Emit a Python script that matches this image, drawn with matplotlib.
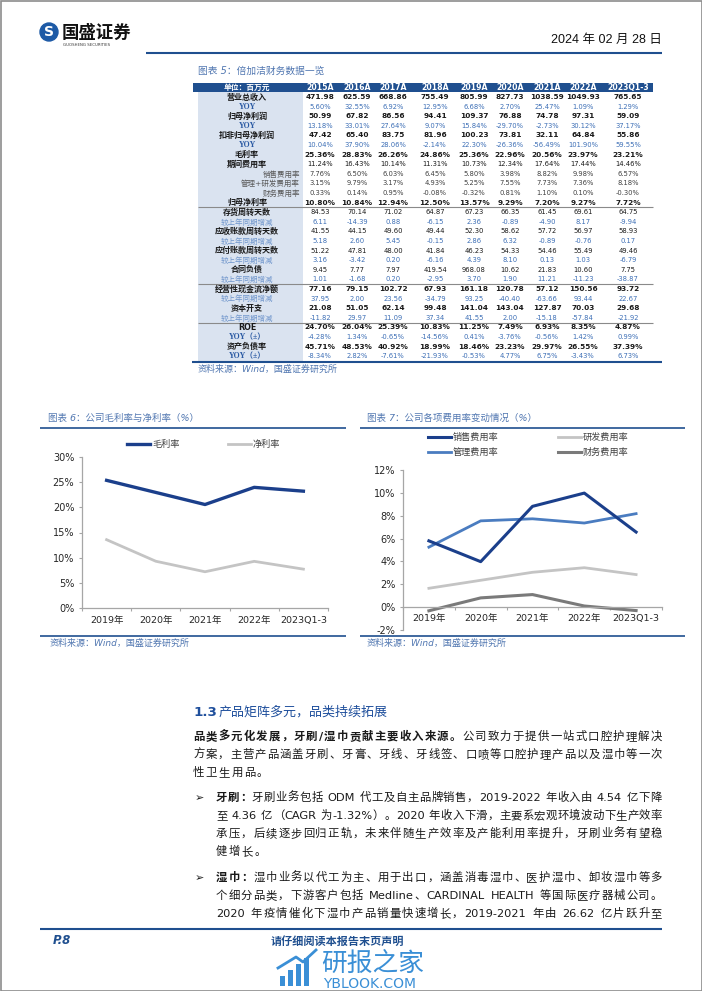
import re
import numpy as np
import matplotlib
matplotlib.use("Agg")
import matplotlib.pyplot as plt
from matplotlib.patches import Rectangle, Circle

W, H = 702, 991
FONTS = ["DejaVu Sans", "Noto Sans CJK SC"]
plt.rcParams["font.family"] = FONTS

NAVY = "#1f4f8f"
LINK = "#5177b1"
TEXT = "#1a1a1a"

# ---------------- table data (图表 5) ----------------
years = ["2015A", "2016A", "2017A", "2018A", "2019A", "2020A", "2021A", "2022A", "2023Q1-3"]

row_labels = [
    "营业总收入", "YOY", "归母净利润", "YOY", "扣非归母净利润", "YOY", "毛利率", "期间费用率",
    "销售费用率", "管理+研发费用率", "财务费用率", "归母净利率",
    "存货周转天数", "较上年同期增减", "应收账款周转天数", "较上年同期增减",
    "应付账款周转天数", "较上年同期增减", "合同负债", "较上年同期增减",
    "经营性现金流净额", "较上年同期增减", "资本开支", "较上年同期增减",
    "ROE", "YOY（±）", "资产负债率", "YOY（±）",
]
row_kinds = [
    "main", "yoy", "main", "yoy", "main", "yoy", "main", "main_n",
    "sub", "sub", "sub", "main",
    "main_n", "chg", "main_n", "chg", "main_n", "chg", "main_n", "chg",
    "main", "chg", "main", "chg",
    "main", "yoy", "main", "yoy",
]
table_values = [
    ["471.98", "625.59", "668.86", "755.49", "805.99", "827.73", "1038.59", "1049.93", "765.65"],
    ["5.60%", "32.55%", "6.92%", "12.95%", "6.68%", "2.70%", "25.47%", "1.09%", "1.29%"],
    ["50.99", "67.82", "86.56", "94.41", "109.37", "76.88", "74.78", "97.31", "59.09"],
    ["13.18%", "33.01%", "27.64%", "9.07%", "15.84%", "-29.70%", "-2.73%", "30.12%", "37.17%"],
    ["47.42", "65.40", "83.75", "81.96", "100.23", "73.81", "32.11", "64.84", "55.86"],
    ["10.04%", "37.90%", "28.06%", "-2.14%", "22.30%", "-26.36%", "-56.49%", "101.90%", "59.55%"],
    ["25.36%", "28.83%", "26.26%", "24.86%", "25.36%", "22.96%", "20.56%", "23.97%", "23.21%"],
    ["11.24%", "16.43%", "10.14%", "11.31%", "10.73%", "12.34%", "17.64%", "17.44%", "14.46%"],
    ["7.76%", "6.50%", "6.03%", "6.45%", "5.80%", "3.98%", "8.82%", "9.98%", "6.57%"],
    ["3.15%", "9.79%", "3.17%", "4.93%", "5.25%", "7.55%", "7.73%", "7.36%", "8.18%"],
    ["0.33%", "0.14%", "0.95%", "-0.08%", "-0.32%", "0.81%", "1.10%", "0.10%", "-0.30%"],
    ["10.80%", "10.84%", "12.94%", "12.50%", "13.57%", "9.29%", "7.20%", "9.27%", "7.72%"],
    ["84.53", "70.14", "71.02", "64.87", "67.23", "66.35", "61.45", "69.61", "64.75"],
    ["6.11", "-14.39", "0.88", "-6.15", "2.36", "-0.89", "-4.90", "8.17", "-9.94"],
    ["41.55", "44.15", "49.60", "49.44", "52.30", "58.62", "57.72", "56.97", "58.93"],
    ["5.18", "2.60", "5.45", "-0.15", "2.86", "6.32", "-0.89", "-0.76", "0.17"],
    ["51.22", "47.81", "48.00", "41.84", "46.23", "54.33", "54.46", "55.49", "49.46"],
    ["3.16", "-3.42", "0.20", "-6.16", "4.39", "8.10", "0.13", "1.03", "-6.79"],
    ["9.45", "7.77", "7.97", "419.54", "968.08", "10.62", "21.83", "10.60", "7.75"],
    ["1.01", "-1.68", "0.20", "-2.95", "3.70", "1.90", "11.21", "-11.23", "-38.87"],
    ["77.16", "79.15", "102.72", "67.93", "161.18", "120.78", "57.12", "150.56", "93.72"],
    ["37.95", "2.00", "23.56", "-34.79", "93.25", "-40.40", "-63.66", "93.44", "22.67"],
    ["21.08", "51.05", "62.14", "99.48", "141.04", "143.04", "127.87", "70.03", "29.68"],
    ["-11.82", "29.97", "11.09", "37.34", "41.55", "2.00", "-15.18", "-57.84", "-21.92"],
    ["24.70%", "26.04%", "25.39%", "10.83%", "11.25%", "7.49%", "6.93%", "8.35%", "4.87%"],
    ["-4.28%", "1.34%", "-0.65%", "-14.56%", "0.41%", "-3.76%", "-0.56%", "1.42%", "0.99%"],
    ["45.71%", "48.53%", "40.92%", "18.99%", "18.46%", "23.23%", "29.97%", "26.55%", "37.39%"],
    ["-8.34%", "2.82%", "-7.61%", "-21.93%", "-0.53%", "4.77%", "6.75%", "-3.43%", "6.73%"],
]

# ---------------- chart data (图表 6 / 7) ----------------
chart_cats = ["2019年", "2020年", "2021年", "2022年", "2023Q1-3"]
gross_margin = [25.36, 22.96, 20.56, 23.97, 23.21]
net_margin = [13.57, 9.29, 7.20, 9.27, 7.72]
sales_rate = [5.80, 3.98, 8.82, 9.98, 6.57]
rd_rate = [1.65, 2.35, 3.05, 3.45, 2.85]
admin_rate = [5.25, 7.55, 7.73, 7.36, 8.18]
fin_rate = [-0.32, 0.81, 1.10, 0.10, -0.30]

fig = plt.figure(figsize=(W / 100, H / 100), dpi=100, facecolor="white")
page = fig.add_axes([0, 0, 1, 1])
page.set_xlim(0, W)
page.set_ylim(H, 0)
page.axis("off")
renderer = fig.canvas.get_renderer()


def hline(x0, x1, y, color=NAVY, lw=1.2):
    page.plot([x0, x1], [y, y], color=color, lw=lw, solid_capstyle="butt")


def px_axes(x0, y0, x1, y1):
    return fig.add_axes([x0 / W, 1 - y1 / H, (x1 - x0) / W, (y1 - y0) / H])


# page frame + header
page.add_patch(Rectangle((0.5, 0.5), W - 1, H - 1, fill=False, ec="#8c8c8c", lw=1.2))
page.add_patch(Circle((49, 32), 9, color="#1d5aa6"))
page.text(49, 32.5, "S", color="white", fontsize=10, fontweight="bold", ha="center", va="center")
page.text(62, 33, "国盛证券", fontsize=12.5, fontweight="bold", color="#111111", va="center")
page.text(63, 45, "GUOSHENG SECURITIES", fontsize=2.8, color="#333333", va="center")
page.text(662, 40, "2024 年 02 月 28 日", fontsize=9, color="#111111", ha="right", va="center",
          family=["Liberation Sans", "Noto Sans CJK SC"])
hline(146, 662, 52.5, lw=1.5)

# ---------------- table ----------------
page.text(198, 71, "图表 5：倍加洁财务数据一览", fontsize=7, color=LINK, style="italic", va="center")
col_x = [320, 357, 393, 435, 474, 510, 547, 583, 628]
row_y0, row_h = 97.0, 9.6
page.add_patch(Rectangle((193, 82.5), 460, 9.6, color=NAVY, lw=0))
page.add_patch(Rectangle((198, 92.1), 105, 269, color="#dae3f0", lw=0))
page.text(247, 87.3, "单位：百万元", fontsize=5.6, color="white", fontweight="bold",
          ha="center", va="center")
for cx, yr in zip(col_x, years):
    page.text(cx, 87.3, yr, fontsize=5.6, color="white", fontweight="bold", ha="center", va="center")

for i, (lab, kind, vals) in enumerate(zip(row_labels, row_kinds, table_values)):
    y = row_y0 + i * row_h
    if kind in ("main", "main_n"):
        page.text(247, y, lab, fontsize=5.8, fontweight="bold", color=TEXT, ha="center", va="center")
        vcol, vw, vs = TEXT, ("bold" if kind == "main" else "normal"), (5.3 if kind == "main" else 4.9)
    elif kind == "yoy":
        page.text(247, y, lab, fontsize=5.6, fontweight="bold", color="#2a59a3", ha="center", va="center",
                  family=["Liberation Serif", "Noto Sans CJK SC"])
        vcol, vw, vs = "#3d6fb6", "normal", 4.9
    elif kind == "sub":
        page.text(300, y, lab, fontsize=5.4, color="#595959", ha="right", va="center")
        vcol, vw, vs = "#404040", "normal", 4.9
    else:
        page.text(247, y, lab, fontsize=5.4, color="#7096cc", ha="center", va="center")
        vcol, vw, vs = "#3d6fb6", "normal", 4.9
    for cx, v in zip(col_x, vals):
        page.text(cx, y, v, fontsize=vs, fontweight=vw, color=vcol, ha="center", va="center")

for k in (11, 19, 23):
    hline(198, 653, row_y0 + (k + 0.5) * row_h, color="#8a8a8a", lw=0.8)
hline(192, 662, 361.5, lw=1.5)
page.text(198, 369, "资料来源：Wind，国盛证券研究所", fontsize=6.5, color=LINK, style="italic", va="center")

# ---------------- chart 6 ----------------
page.text(48, 418, "图表 6：公司毛利率与净利率（%）", fontsize=6.8, color=LINK, style="italic", va="center")
hline(40, 346, 427.5)
hline(40, 346, 636)
page.text(50, 643, "资料来源：Wind，国盛证券研究所", fontsize=6.5, color=LINK, style="italic", va="center")

C_DARK, C_LGRAY, C_MID, C_DGRAY = "#1b3f8b", "#c4c4c4", "#4a7cc0", "#7a7a7a"


def style_axes(ax, ylo, yhi, step, pad_x):
    ax.set_facecolor("none")
    ax.set_xlim(-0.5, len(chart_cats) - 0.5)
    ax.set_ylim(ylo, yhi)
    ax.set_yticks(np.arange(ylo, yhi + 0.1, step))
    ax.set_yticklabels([f"{v:.0f}%" for v in np.arange(ylo, yhi + 0.1, step)])
    ax.set_xticks(range(len(chart_cats)))
    ax.set_xticklabels(chart_cats)
    ax.set_xticks(np.arange(-0.5, len(chart_cats)), minor=True)
    for s in ("top", "right"):
        ax.spines[s].set_visible(False)
    for s in ("left", "bottom"):
        ax.spines[s].set_color("#a6a6a6")
        ax.spines[s].set_linewidth(0.9)
    ax.tick_params(axis="y", length=2.5, width=0.8, color="#a6a6a6", labelsize=7, pad=3,
                   labelcolor="#262626")
    ax.tick_params(axis="x", which="major", length=0, labelsize=6.8, pad=pad_x, labelcolor="#262626")
    ax.tick_params(axis="x", which="minor", length=2.5, width=0.8, color="#a6a6a6")


ax6 = px_axes(82, 457, 328, 608)
style_axes(ax6, 0, 30, 5, 6)
x = np.arange(len(chart_cats))
ax6.plot(x, gross_margin, color=C_DARK, lw=2.4)
ax6.plot(x, net_margin, color=C_LGRAY, lw=2.0)

for x0, col, lw, lab in [(127, C_DARK, 2.4, "毛利率"), (228, C_LGRAY, 2.0, "净利率")]:
    page.plot([x0, x0 + 23], [444, 444], color=col, lw=lw)
    page.text(x0 + 25, 444, lab, fontsize=6.6, color="#404040", va="center")

# ---------------- chart 7 ----------------
page.text(367, 418, "图表 7：公司各项费用率变动情况（%）", fontsize=6.8, color=LINK, style="italic", va="center")
hline(360, 685, 427.5)
hline(360, 685, 636)
page.text(367, 643, "资料来源：Wind，国盛证券研究所", fontsize=6.5, color=LINK, style="italic", va="center")

ax7 = px_axes(403, 470, 662, 630)
style_axes(ax7, -2, 12, 2, 5)
ax7.spines["bottom"].set_position(("data", 0))
ax7.plot(x, rd_rate, color=C_LGRAY, lw=2.0)
ax7.plot(x, fin_rate, color=C_DGRAY, lw=2.2)
ax7.plot(x, admin_rate, color=C_MID, lw=2.0)
ax7.plot(x, sales_rate, color=C_DARK, lw=2.2)

for x0, y0, col, lw, lab in [(428, 437, C_DARK, 2.2, "销售费用率"), (558, 437, C_LGRAY, 2.0, "研发费用率"),
                             (428, 452, C_MID, 2.0, "管理费用率"), (558, 452, C_DGRAY, 2.2, "财务费用率")]:
    page.plot([x0, x0 + 23], [y0, y0], color=col, lw=lw)
    page.text(x0 + 25, y0, lab, fontsize=6.6, color="#404040", va="center")

# ---------------- body text ----------------
BODY = 8.2


def text_width(s, size, weight):
    em = size * 100 / 72
    if s == " ":
        return em * 0.32
    if ord(s[0]) > 127:
        return em  # CJK glyphs are full-width
    t = page.text(0, 0, s, fontsize=size, fontweight=weight)
    w = t.get_window_extent(renderer).width
    t.remove()
    return w


def draw_line(x0, x1, base, segs, justify=True, size=BODY):
    toks = [(tk, wt) for s, wt in segs for tk in re.findall(r"[!-~]+| |[^\x00-\x7f]", s)]
    ws = [text_width(tk, size, wt) for tk, wt in toks]
    gap = (x1 - x0 - sum(ws)) / (len(toks) - 1) if justify else size * 100 / 72 * 0.12
    xx = x0
    for (tk, wt), w in zip(toks, ws):
        if tk == " ":
            pass
        elif ord(tk[0]) > 127:
            # centre each full-width glyph in its em box
            page.text(xx + w / 2, base, tk, fontsize=size, fontweight=wt, color=TEXT,
                      ha="center", va="baseline")
        else:
            page.text(xx, base, tk, fontsize=size, fontweight=wt, color=TEXT, va="baseline")
        xx += w + gap


page.text(193, 716, "1.3", fontsize=9.6, fontweight="bold", color="#1f4f9c", va="baseline")
page.text(219, 716, "产品矩阵多元，品类持续拓展", fontsize=9.4, color="#1f4f9c", va="baseline")

N, B = "normal", "bold"
draw_line(193, 662, 740, [("品类多元化发展，牙刷/湿巾贡献主要收入来源。", B), ("公司致力于提供一站式口腔护理解决", N)])
draw_line(193, 662, 758, [("方案，主营产品涵盖牙刷、牙膏、牙线、牙线签、口喷等口腔护理产品以及湿巾等一次", N)])
draw_line(193, 662, 776, [("性卫生用品。", N)], justify=False)

page.text(195, 801, "➢", fontsize=8, color=TEXT, va="baseline")
draw_line(216, 662, 801, [("牙刷：", B), ("牙刷业务包括 ODM 代工及自主品牌销售，2019-2022 年收入由 4.54 亿下降", N)])
draw_line(216, 662, 819, [("至 4.36 亿（CAGR 为-1.32%）。2020 年收入下滑，主要系宏观环境波动下生产效率", N)])
draw_line(216, 662, 837, [("承压，后续逐步回归正轨，未来伴随生产效率及产能利用率提升，牙刷业务有望稳", N)])
draw_line(216, 662, 855, [("健增长。", N)], justify=False)

page.text(195, 881, "➢", fontsize=8, color=TEXT, va="baseline")
draw_line(216, 662, 881, [("湿巾：", B), ("湿巾业务以代工为主、用于出口，涵盖消毒湿巾、医护湿巾、卸妆湿巾等多", N)])
draw_line(216, 662, 899, [("个细分品类，下游客户包括 Medline、CARDINAL HEALTH 等国际医疗器械公司。", N)])
draw_line(216, 662, 917, [("2020 年疫情催化下湿巾产品销量快速增长，2019-2021 年由 26.62 亿片跃升至", N)])

# ---------------- footer ----------------
hline(40, 662, 928.5, lw=1.5)
page.text(53, 941, "P.8", fontsize=8.5, fontweight="bold", style="italic", color=NAVY, va="center")
page.text(337, 941, "请仔细阅读本报告末页声明", fontsize=8, fontweight="bold", color=NAVY,
          style="italic", ha="center", va="center")
WM = "#3a8fd6"
for bx, bh in [(280, 10), (288, 16), (296, 22), (304, 28)]:
    page.add_patch(Rectangle((bx, 986 - bh), 5, bh, color=WM, lw=0))
page.plot([278, 296, 303, 316], [968, 957, 962, 950], color=WM, lw=2)
page.text(321, 964, "研报之家", fontsize=18.5, color=WM, va="center")
page.text(323, 984, "YBLOOK.COM", fontsize=10, color=WM, va="center")

fig.savefig("out.png", dpi=100, facecolor="white")
